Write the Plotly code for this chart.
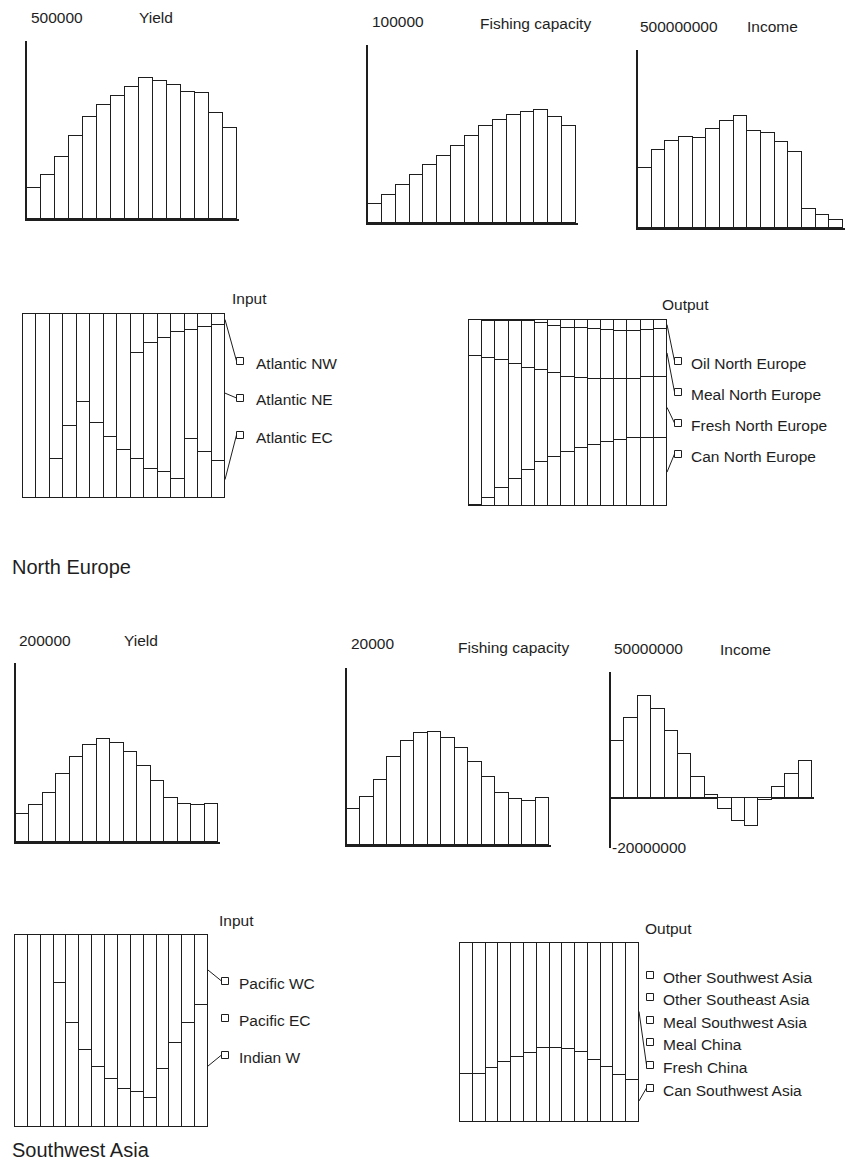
import plotly.graph_objects as go

W, H = 851, 1172

# ---------------- North Europe ----------------
ne_yield = [86700, 124000, 175000, 233000, 287000, 319000, 346000, 372000,
            396000, 389000, 377000, 357000, 353000, 299000, 257000]
ne_capacity = [10800, 15900, 21100, 27100, 32700, 37800, 43400, 49000,
               54600, 57600, 60700, 62600, 63600, 59300, 54600]
ne_income = [168e6, 218e6, 244e6, 257e6, 252e6, 278e6, 301e6, 316e6,
             273e6, 266e6, 241e6, 214e6, 53e6, 37e6, 23e6]

# input shares (%) by fishing area
ne_atlantic_ec = [0, 0, 21, 39, 52, 41, 33, 26, 21, 16, 14, 10.5, 32, 25, 20]
ne_atlantic_nw = [0, 0, 0, 0, 0, 0, 0, 0, 21, 16, 13, 10, 8.5, 7, 6]
ne_atlantic_ne = [round(100 - a - b, 1) for a, b in zip(ne_atlantic_ec, ne_atlantic_nw)]

# output shares (%) by product
ne_can = [0.5, 4.1, 9.8, 14.6, 19.1, 23.6, 26.4, 28.9, 31.3, 32.7, 34.5, 35.4, 36.4, 36.4, 36.4]
ne_fresh = [80.2, 75.4, 68.8, 61.8, 55.0, 49.6, 45.0, 40.7, 37.5, 35.7, 33.9, 33.0, 32.0, 32.9, 33.2]
ne_meal = [19.1, 20.2, 21.1, 23.0, 25.2, 25.0, 25.4, 26.3, 26.8, 26.8, 26.2, 25.9, 25.9, 25.4, 25.4]
ne_oil = [round(100 - a - b - c, 1) for a, b, c in zip(ne_can, ne_fresh, ne_meal)]

# ---------------- Southwest Asia ----------------
sw_yield = [31000, 41900, 55000, 75500, 95300, 108400, 114800, 111000,
            101000, 85200, 68400, 49700, 43000, 41100, 42200]
sw_capacity = [4020, 5450, 7400, 9960, 11730, 12600, 12780, 12140,
               11000, 9400, 7630, 5900, 5190, 5000, 5260]
sw_income = [22.7e6, 31.8e6, 40.6e6, 35.3e6, 26.4e6, 17.5e6, 8.4e6, 0.9e6,
             -4.5e6, -9.1e6, -11.4e6, -0.8e6, 4.3e6, 9.5e6, 14.5e6]

sw_pacific_wc = [0, 0, 0, 25, 46, 60, 69, 75, 80, 82, 85, 70, 56, 46, 36.5]
sw_pacific_ec = [0] * 15
sw_indian_w = [round(100 - a - b, 1) for a, b in zip(sw_pacific_wc, sw_pacific_ec)]

sw_fresh_china = [73.2, 73.2, 70.0, 66.6, 63.5, 61.3, 58.8, 58.8, 59.2,
                  60.7, 65.4, 69.4, 73.7, 76.5]
sw_can_swasia = [round(100 - v, 1) for v in sw_fresh_china]
sw_meal_china = [0] * 14
sw_meal_swasia = [0] * 14
sw_other_seasia = [0] * 14
sw_other_swasia = [0] * 14

INK = "#1e1e1e"
FONT = "Liberation Sans, Arial, Helvetica, sans-serif"
PAD = 2  # pixels of breathing room so edge strokes are not clipped


def px(x):
    return x / W


def py(y):
    return 1 - y / H


fig = go.Figure()
layout = dict(
    width=W, height=H, margin=dict(l=0, r=0, t=0, b=0),
    paper_bgcolor="white", plot_bgcolor="white",
    showlegend=False, barmode="stack", bargap=0,
    font=dict(family=FONT, size=15.5, color=INK),
)
annotations, shapes = [], []


def text(s, x, y, size=15.5):
    annotations.append(dict(text=s, x=px(x), y=py(y), xref="paper", yref="paper",
                            xanchor="left", yanchor="middle", showarrow=False,
                            font=dict(family=FONT, size=size, color=INK)))


def axes(n, count, left, right, top, bottom, yrange, lines=True, zero=False):
    sx = "" if n == 1 else str(n)
    ux = count / (right - left)
    uy = (yrange[1] - yrange[0]) / (bottom - top)
    # framed charts keep their axis lines flush; boxes get padding all round
    pl, pb, pt = (0, 0, 0) if lines else (PAD, PAD, PAD)
    pr = PAD
    layout["xaxis" + sx] = dict(domain=[px(left - pl), px(right + pr)],
                                range=[0.5 - pl * ux, count + 0.5 + pr * ux],
                                anchor="y" + sx, showline=lines and not zero,
                                linewidth=2, linecolor=INK, showgrid=False,
                                zeroline=False, showticklabels=False, ticks="",
                                fixedrange=True)
    layout["yaxis" + sx] = dict(domain=[py(bottom + pb), py(top - pt)],
                                range=[yrange[0] - pb * uy, yrange[1] + pt * uy],
                                anchor="x" + sx, showline=lines, linewidth=2,
                                linecolor=INK, showgrid=False, zeroline=zero,
                                zerolinecolor=INK, zerolinewidth=1.6,
                                showticklabels=False, ticks="", fixedrange=True)
    return "x" + sx, "y" + sx


def bars(values, xa, ya):
    fig.add_trace(go.Bar(x=list(range(1, len(values) + 1)), y=values,
                         xaxis=xa, yaxis=ya,
                         marker=dict(color="white", line=dict(color=INK, width=1.1)),
                         hoverinfo="skip"))


def single(n, values, box, ymax, ymin=0, zero=False):
    left, right, top, bottom = box
    xa, ya = axes(n, len(values), left, right, top, bottom, [ymin, ymax], zero=zero)
    bars(values, xa, ya)


def stacked(n, series, box, legend):
    """series: list of (name, values) from bottom to top.
    legend: (square_x, label_x, [label y, top to bottom])"""
    left, right, top, bottom = box
    xa, ya = axes(n, len(series[0][1]), left, right, top, bottom, [0, 100], lines=False)
    for name, vals in series:
        bars(vals, xa, ya)
    sq_x, lab_x, ys = legend
    cum = 0
    mids = {}
    for name, vals in series:
        v = vals[-1]
        if v > 0:
            mids[name] = bottom - (cum + v / 2) / 100 * (bottom - top)
        cum += v
    for (name, vals), ly in zip(reversed(series), ys):
        s = 7
        shapes.append(dict(type="rect", xref="paper", yref="paper",
                           x0=px(sq_x - s / 2), x1=px(sq_x + s / 2),
                           y0=py(ly - 2 + s / 2), y1=py(ly - 2 - s / 2),
                           line=dict(color=INK, width=1), fillcolor="white"))
        text(name, lab_x, ly)
        if name in mids:
            shapes.append(dict(type="line", xref="paper", yref="paper",
                               x0=px(right), y0=py(mids[name]),
                               x1=px(sq_x - s / 2), y1=py(ly - 2),
                               line=dict(color=INK, width=1)))


# ---- North Europe row ----
single(1, ne_yield, (27, 237, 41, 219), 500000)
text("500000", 29, 17)
text("Yield", 137, 17)

single(2, ne_capacity, (368, 576, 45, 223), 100000)
text("100000", 370, 22)
text("Fishing capacity", 478, 23)

single(3, ne_income, (638, 843, 50, 228), 500e6)
text("500000000", 638, 27)
text("Income", 745, 27)

stacked(4, [("Atlantic EC", ne_atlantic_ec), ("Atlantic NE", ne_atlantic_ne),
            ("Atlantic NW", ne_atlantic_nw)],
        (23, 225, 314, 498), (240, 254, [363, 400, 437]))
text("Input", 230, 298)

stacked(5, [("Can North Europe", ne_can), ("Fresh North Europe", ne_fresh),
            ("Meal North Europe", ne_meal), ("Oil North Europe", ne_oil)],
        (469, 667, 320, 506), (678, 689, [363, 394, 425, 456]))
text("Output", 660, 305)

text("North Europe", 10, 567, 20)

# ---- Southwest Asia row ----
single(6, sw_yield, (16, 218, 663, 842), 200000)
text("200000", 17, 640)
text("Yield", 122, 640)

single(7, sw_capacity, (347, 549, 668, 845), 20000)
text("20000", 349, 643)
text("Fishing capacity", 456, 647)

single(8, sw_income, (611, 812, 672, 848), 50e6, ymin=-20e6, zero=True)
text("50000000", 612, 648)
text("Income", 718, 649)
text("-20000000", 610, 847)

stacked(9, [("Indian W", sw_indian_w), ("Pacific EC", sw_pacific_ec),
            ("Pacific WC", sw_pacific_wc)],
        (15, 208, 935, 1127), (225, 237, [983, 1020, 1057]))
text("Input", 217, 920)

stacked(10, [("Can Southwest Asia", sw_can_swasia), ("Fresh China", sw_fresh_china),
             ("Meal China", sw_meal_china), ("Meal Southwest Asia", sw_meal_swasia),
             ("Other Southeast Asia", sw_other_seasia),
             ("Other Southwest Asia", sw_other_swasia)],
         (460, 639, 943, 1122), (650, 661, [977, 999, 1022, 1044, 1067, 1090]))
text("Output", 643, 928)

text("Southwest Asia", 10, 1150, 20)

layout["annotations"] = annotations
layout["shapes"] = shapes
fig.update_layout(**layout)
fig.write_html("out.html")
